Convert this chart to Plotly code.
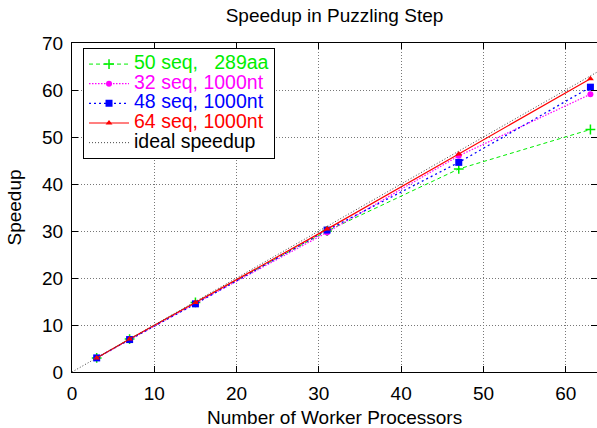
import plotly.graph_objects as go

workers = [3, 7, 15, 31, 47, 63]
s50_289aa = [3.0, 7.0, 14.8, 30.0, 43.2, 51.6]
s32_1000nt = [3.0, 6.9, 14.6, 29.7, 46.0, 59.1]
s48_1000nt = [3.0, 6.9, 14.5, 30.2, 44.6, 60.6]
s64_1000nt = [3.0, 7.0, 14.8, 30.4, 46.4, 62.4]
ideal_x = [0, 64]
ideal_y = [0, 64]

names = ["50 seq,\u00a0\u00a0\u00a0289aa", "32 seq, 1000nt", "48 seq, 1000nt", "64 seq, 1000nt", "ideal speedup"]
colors = ["#00ee00", "#ff00ff", "#0000ff", "#ff0000", "#000000"]
x_title = "Number of Worker Processors"
y_title = "Speedup"


def lab(i):
    return f"<span style='color:{colors[i]};font-size:19.5px'>{names[i]}</span>"


fig = go.Figure()
fig.add_trace(go.Scatter(x=workers, y=s50_289aa, mode="lines+markers", name=lab(0),
                         line=dict(color=colors[0], width=1, dash="4px,3px"),
                         marker=dict(symbol="cross-thin", size=7, line=dict(color=colors[0], width=1.5))))
fig.add_trace(go.Scatter(x=workers, y=s32_1000nt, mode="lines+markers", name=lab(1),
                         line=dict(color=colors[1], width=1.2, dash="1.5px,1.5px"),
                         marker=dict(symbol="circle", size=6, color=colors[1])))
fig.add_trace(go.Scatter(x=workers, y=s48_1000nt, mode="lines+markers", name=lab(2),
                         line=dict(color=colors[2], width=1.3, dash="2px,3px"),
                         marker=dict(symbol="square", size=7, color=colors[2])))
fig.add_trace(go.Scatter(x=workers, y=s64_1000nt, mode="lines+markers", name=lab(3),
                         line=dict(color=colors[3], width=1.2),
                         marker=dict(symbol="triangle-up", size=6, color=colors[3])))
fig.add_trace(go.Scatter(x=ideal_x, y=ideal_y, mode="lines", name=lab(4),
                         line=dict(color="#444444", width=1, dash="1px,2px")))

axis_common = dict(showline=True, linecolor="black", linewidth=1, mirror="allticks",
                   ticks="inside", ticklen=6, tickcolor="black",
                   showgrid=True, gridcolor="#777777", griddash="1px,2px", gridwidth=1,
                   zeroline=False, tickfont=dict(size=19, color="black"), automargin=False)

fig.update_layout(
    width=597, height=428,
    margin=dict(l=72, r=0, t=43, b=56),
    paper_bgcolor="white", plot_bgcolor="white",
    font=dict(family="Liberation Sans, Arial, sans-serif", size=19, color="black"),
    title=dict(text="Speedup in Puzzling Step", x=0.5, xref="paper", xanchor="center",
               y=0.965, yanchor="middle", font=dict(size=19)),
    xaxis=dict(range=[0, 63.8], tickvals=[0, 10, 20, 30, 40, 50, 60],
               ticklabelstandoff=4, **axis_common),
    yaxis=dict(range=[0, 70], tickvals=[0, 10, 20, 30, 40, 50, 60, 70],
               ticklabelstandoff=4, **axis_common),
    legend=dict(x=0.021, y=0.984, xanchor="left", yanchor="top",
                bgcolor="white", bordercolor="black", borderwidth=1,
                font=dict(size=12.8), tracegroupgap=0, itemwidth=40),
    showlegend=True,
    annotations=[
        dict(text=x_title, xref="paper", yref="paper", x=0.5, y=0, xanchor="center",
             yanchor="middle", yshift=-45, showarrow=False, font=dict(size=19)),
        dict(text=y_title, xref="paper", yref="paper", x=0, y=0.5, xanchor="center",
             yanchor="middle", xshift=-58, textangle=-90, showarrow=False, font=dict(size=19)),
    ],
)

fig.write_html("out.html", config={"displayModeBar": False},
               post_script="document.body.style.margin='0';document.body.style.overflow='hidden';")
